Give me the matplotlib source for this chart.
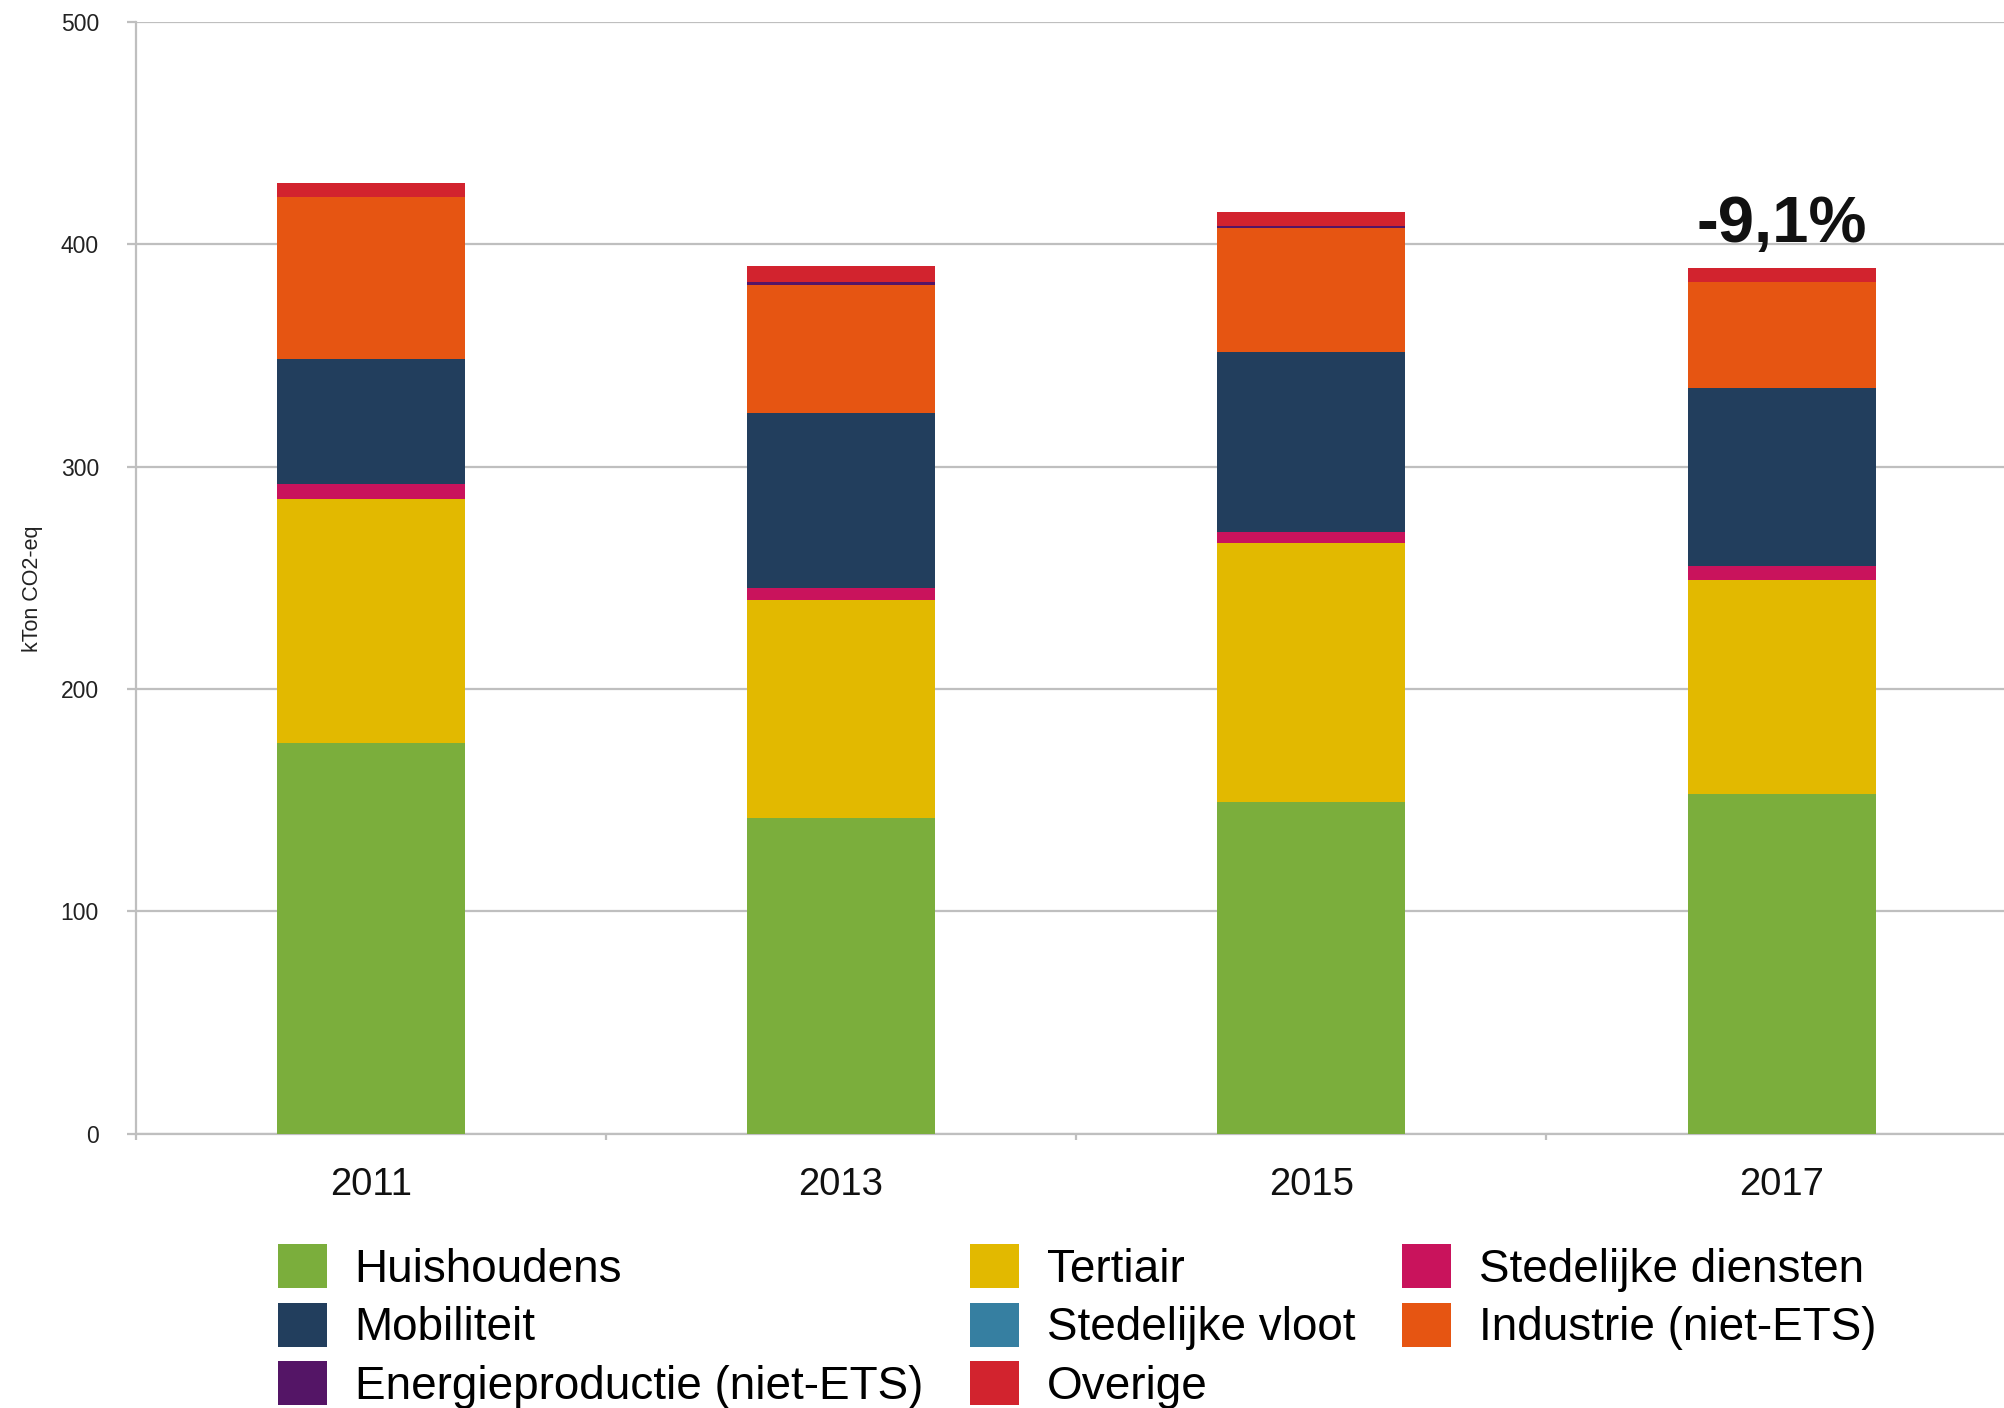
#! /usr/bin/env python3
# -*- coding: utf-8 -*-
"""
plot.py: stacked bars of emissions per sector (kTon CO2-eq).
"""

import matplotlib
matplotlib.use('Agg')
import matplotlib.pyplot as plt
import numpy as np

plt.rcParams['font.family'] = ['Liberation Sans', 'DejaVu Sans']

years = ['2011', '2013', '2015', '2017']

# values per sector, stacked from bottom to top
huishoudens = [175.9, 142.0, 149.4, 152.9]
tertiair = [109.7, 98.2, 116.1, 96.0]
stedelijke_diensten = [6.4, 5.2, 5.2, 6.3]
mobiliteit = [56.3, 78.7, 81.0, 80.4]
stedelijke_vloot = [0.0, 0.0, 0.0, 0.0]
industrie = [72.9, 57.5, 55.6, 47.4]
energieproductie = [0.0, 1.4, 0.9, 0.0]
overige = [6.5, 7.4, 6.3, 6.3]

annotation = '-9,1%'

series = [
    ('Huishoudens', huishoudens, '#7bae3c'),
    ('Tertiair', tertiair, '#e2b900'),
    ('Stedelijke diensten', stedelijke_diensten, '#c9135c'),
    ('Mobiliteit', mobiliteit, '#223e5d'),
    ('Stedelijke vloot', stedelijke_vloot, '#367fa1'),
    ('Industrie (niet-ETS)', industrie, '#e65512'),
    ('Energieproductie (niet-ETS)', energieproductie, '#541566'),
    ('Overige', overige, '#d2232e'),
]

GRID = '#bfbfbf'

fig = plt.figure(figsize=(20.04, 14.08), dpi=100)
ax = fig.add_axes([0.0677, 0.1948, 1 - 0.0677, 0.9844 - 0.1948])

x = np.arange(len(years))
bottom = np.zeros(len(years))
handles = {}
for name, vals, color in series:
    vals = np.array(vals)
    h = ax.bar(x, vals, width=0.4, bottom=bottom, color=color,
               linewidth=0, label=name, zorder=3)
    handles[name] = h
    bottom += vals

ax.set_xlim(-0.5, 3.473)
ax.set_ylim(0, 500)
ax.set_yticks([0, 100, 200, 300, 400, 500])
ax.yaxis.grid(True, color=GRID, linewidth=1.6, zorder=0)
ax.set_axisbelow(True)

for s in ['top', 'right']:
    ax.spines[s].set_visible(False)
for s in ['left', 'bottom']:
    ax.spines[s].set_color(GRID)
    ax.spines[s].set_linewidth(1.6)

ax.set_xticks(x)
ax.set_xticklabels(years)
ax.set_xticks([-0.5, 0.5, 1.5, 2.5], minor=True)
ax.tick_params(axis='x', which='major', length=0, pad=24, labelsize=27.5,
               labelcolor='#111111')
ax.tick_params(axis='x', which='minor', length=4.5, width=1.6, color=GRID)
ax.tick_params(axis='y', length=6.5, width=1.6, color=GRID, pad=20,
               labelsize=16.5, labelcolor='#222222')

ax.set_ylabel('kTon CO2-eq', fontsize=15.5, color='#222222')
ax.yaxis.set_label_coords(-0.0495, 0.49)

# change label above the last bar
ax.text(x[-1], 401, annotation, ha='center', va='baseline',
        fontsize=47, fontweight='bold', color='#111111')

order = ['Huishoudens', 'Mobiliteit', 'Energieproductie (niet-ETS)',
         'Tertiair', 'Stedelijke vloot', 'Overige',
         'Stedelijke diensten', 'Industrie (niet-ETS)']
fig.legend([handles[n] for n in order], order, ncol=3, frameon=False,
           loc='upper left', bbox_to_anchor=(278 / 2004, 1 - 1244 / 1408),
           fontsize=33, handlelength=1.07, handleheight=1.1,
           handletextpad=0.6, labelspacing=0.24, columnspacing=1.03,
           borderpad=0, borderaxespad=0)

plt.savefig('out.png', dpi=100)
